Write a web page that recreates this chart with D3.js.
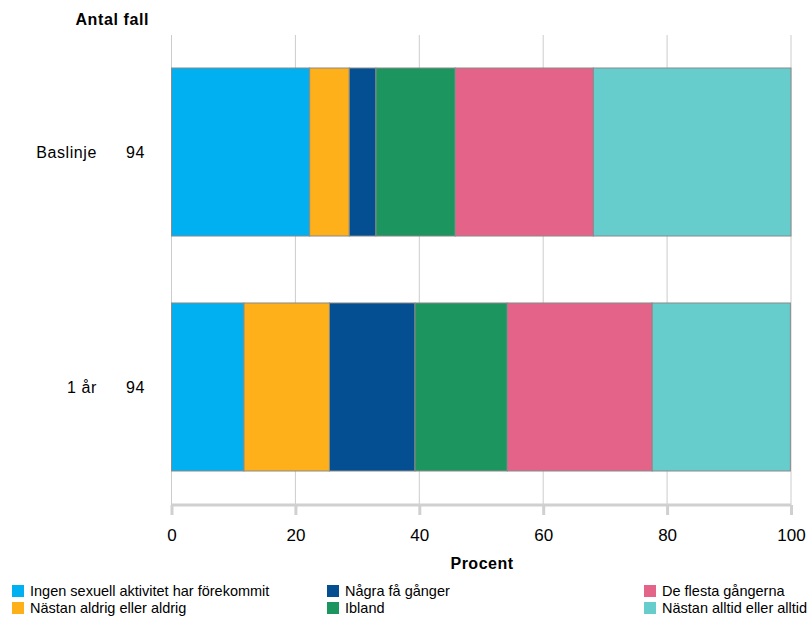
<!DOCTYPE html>
<html><head><meta charset="utf-8">
<script src="https://cdn.jsdelivr.net/npm/d3@7"></script>
<style>body{margin:0;background:#fff;font-family:"Liberation Sans",Arial,sans-serif;}</style>
</head><body><svg id="c" width="809" height="619"></svg>
<script>
const categories = ["Baslinje", "1 år"];
const counts = [94, 94];
const seriesNames = ["Ingen sexuell aktivitet har förekommit","Nästan aldrig eller aldrig","Några få gånger","Ibland","De flesta gångerna","Nästan alltid eller alltid"];
const seriesColors = ["#00B0F0","#FDB019","#034F92","#1C955F","#E46388","#66CCCC"];
const valuesBaslinje = [22.3, 6.4, 4.3, 12.8, 22.3, 31.9];
const values1ar = [11.7, 13.8, 13.8, 14.9, 23.4, 22.3];
const xTicks = [0,20,40,60,80,100];

const data = [valuesBaslinje, values1ar];
const svg = d3.select("#c");
const x = d3.scaleLinear().domain([0,100]).range([171.5,791]);
const y = d3.scaleBand().domain(categories).range([68,471]).paddingInner(0.285).paddingOuter(0);

// gridlines
svg.append("g").selectAll("line").data(xTicks).join("line")
  .attr("x1",d=>x(d)).attr("x2",d=>x(d)).attr("y1",35).attr("y2",505)
  .attr("stroke","#cccccc").attr("stroke-width",1);

// bars
categories.forEach((c,i)=>{
  let cum=0;
  const g = svg.append("g");
  data[i].forEach((v,j)=>{
    g.append("rect").attr("x",x(cum)).attr("y",y(c)).attr("width",x(cum+v)-x(cum)).attr("height",y.bandwidth())
      .attr("fill",seriesColors[j]).attr("stroke","#8a8a8a").attr("stroke-width",1);
    cum+=v;
  });
  svg.append("text").attr("x",97).attr("y",y(c)+y.bandwidth()/2+6).attr("text-anchor","end").attr("font-size",16).attr("letter-spacing","0.6px").attr("fill","#000").text(c);
  svg.append("text").attr("x",145).attr("y",y(c)+y.bandwidth()/2+6).attr("text-anchor","end").attr("font-size",16).attr("letter-spacing","0.6px").attr("fill","#000").text(counts[i]);
});

svg.append("text").attr("x",149).attr("y",25).attr("text-anchor","end").attr("font-size",16).attr("letter-spacing","0.6px").attr("font-weight","bold").text("Antal fall");

// axis
const ax = svg.append("g").attr("transform","translate(0,505)")
  .call(d3.axisBottom(x).tickValues(xTicks).tickSize(10).tickPadding(14).tickFormat(d3.format("d")));
ax.select(".domain").attr("stroke","#d0d0d0").attr("stroke-width",3).attr("d","M171.5,0H791");
ax.selectAll(".tick line").attr("stroke","#d0d0d0").attr("stroke-width",3);
ax.selectAll(".tick text").attr("font-size",17).attr("fill","#000").attr("font-family","Liberation Sans, Arial, sans-serif");

svg.append("text").attr("x",482).attr("y",569).attr("text-anchor","middle").attr("font-size",16).attr("letter-spacing","0.5px").attr("font-weight","bold").text("Procent");

// legend
const legX = [12, 12, 327, 327, 644, 644];
const legY = [585, 602, 585, 602, 585, 602];
seriesNames.forEach((n,j)=>{
  svg.append("rect").attr("x",legX[j]).attr("y",legY[j]).attr("width",12).attr("height",12).attr("fill",seriesColors[j]);
  svg.append("text").attr("x",legX[j]+18).attr("y",legY[j]+11).attr("font-size",14.5).attr("fill","#000").text(n);
});
</script></body></html>
